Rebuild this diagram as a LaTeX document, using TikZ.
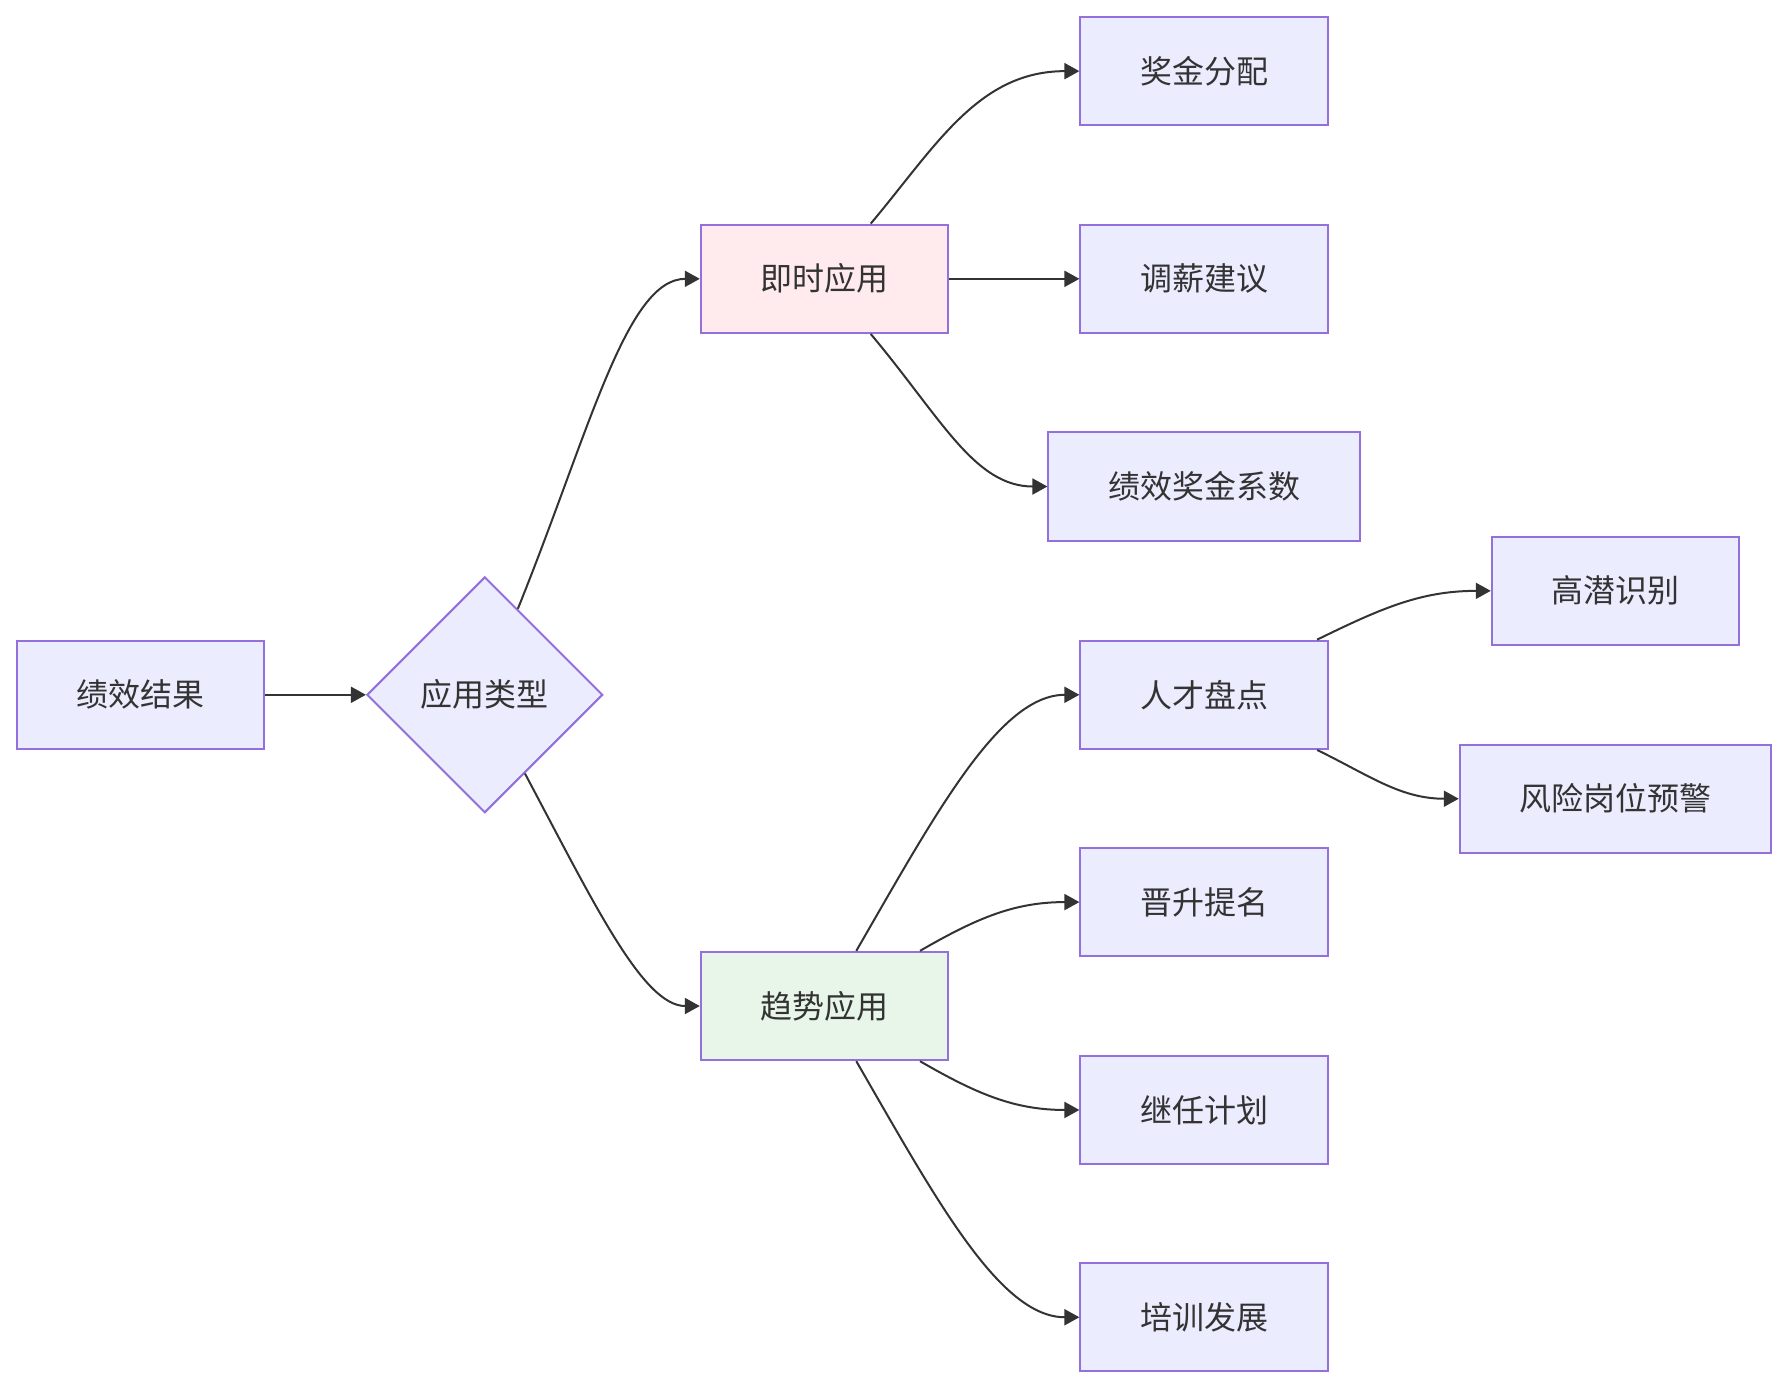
\documentclass[tikz,border=0pt]{standalone}
\usepackage{fontspec}
\newfontfamily\cjk{Noto Sans CJK SC}
\usetikzlibrary{shapes.geometric,arrows.meta,positioning,calc}

\definecolor{boxfill}{HTML}{ECECFF}
\definecolor{boxline}{HTML}{9370DB}
\definecolor{pinkfill}{HTML}{FFEBEE}
\definecolor{greenfill}{HTML}{E8F5E9}
\definecolor{inkgray}{HTML}{333333}

\begin{document}
\begin{tikzpicture}[auto, on grid, >={Triangle[length=7.5pt,width=8pt]}, line width=1pt]
    % Estilos para los bloques
    \tikzstyle{block} = [draw=boxline, rectangle, fill=boxfill, text=inkgray, minimum height=54.2pt, minimum width=123.7pt, align=center, font=\cjk\fontsize{16pt}{19pt}\selectfont]
    \tikzstyle{wideblock} = [block, minimum width=155.7pt]
    \tikzstyle{decision} = [draw=boxline, diamond, aspect=1, fill=boxfill, text=inkgray, minimum size=118pt, inner sep=0pt, font=\cjk\fontsize{16pt}{19pt}\selectfont]
    \tikzstyle{link} = [draw=inkgray, ->]

    % --- Nodos de entrada ---
    \node [block] (result) {绩效结果};
    \node [decision, right=172.2pt of result] (type) {应用类型};

    % --- Tipos de aplicacion ---
    \node [block, fill=pinkfill, above right=208.1pt and 169.9pt of type] (instant) {即时应用};
    \node [block, fill=greenfill, below right=155.7pt and 169.9pt of type] (trend) {趋势应用};

    % --- Aplicacion inmediata ---
    \node [block, above right=103.9pt and 189.9pt of instant] (bonus) {奖金分配};
    \node [block, right=189.9pt of instant] (salary) {调薪建议};
    \node [wideblock, below right=103.9pt and 189.9pt of instant] (coef) {绩效奖金系数};

    % --- Aplicacion de tendencia ---
    \node [block, above right=155.7pt and 189.9pt of trend] (talent) {人才盘点};
    \node [block, above right=52pt and 189.9pt of trend] (promo) {晋升提名};
    \node [block, below right=52pt and 189.9pt of trend] (succession) {继任计划};
    \node [block, below right=155.7pt and 189.9pt of trend] (training) {培训发展};

    % Salidas del inventario de talento
    \node [block, above right=52pt and 205.8pt of talent] (hipo) {高潜识别};
    \node [wideblock, below right=52pt and 205.8pt of talent] (risk) {风险岗位预警};

    % --- Conexiones ---
    \draw [link] (result) -- (type);
    \draw [link] (type.69) to[out=68, in=180, out looseness=1.3, in looseness=0.5] (instant.west);
    \draw [link] (type.-63) to[out=-62, in=180, out looseness=1.3, in looseness=0.5] (trend.west);

    \draw [link] (instant.50) to[out=50, in=180] (bonus.west);
    \draw [link] (instant) -- (salary);
    \draw [link] (instant.-50) to[out=-50, in=180, out looseness=1.2, in looseness=0.8] (coef.west);

    \draw [link] (trend.60) to[out=60, in=180, out looseness=1.2, in looseness=0.6] (talent.west);
    \draw [link] (trend.30) to[out=30, in=180] (promo.west);
    \draw [link] (trend.-30) to[out=-30, in=180] (succession.west);
    \draw [link] (trend.-60) to[out=-60, in=180, out looseness=1.2, in looseness=0.6] (training.west);

    \draw [link] (talent.26) to[out=26, in=180] (hipo.west);
    \draw [link] (talent.-26) to[out=-26, in=180] (risk.west);

    % Margenes de la figura
    \useasboundingbox ($(result.west |- bonus.north)+(-8pt,8pt)$) rectangle ($(risk.east |- training.south)+(8pt,-8pt)$);
\end{tikzpicture}
\end{document}
